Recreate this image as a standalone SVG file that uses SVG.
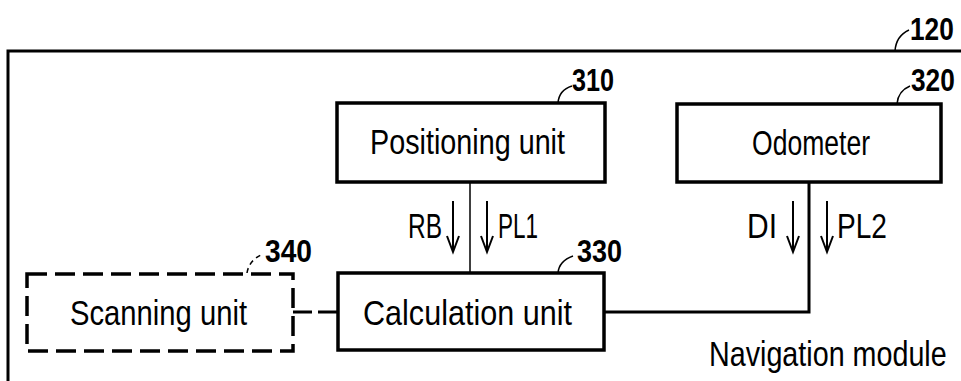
<svg xmlns="http://www.w3.org/2000/svg" width="961" height="381" viewBox="0 0 961 381">
<style>
.box{fill:none;stroke:#000;stroke-width:3.5}
.dbox{fill:none;stroke:#000;stroke-width:3.5;stroke-dasharray:20 8}
.t{font-family:"Liberation Sans Narrow","Liberation Sans",Arial,sans-serif;font-size:35px;fill:#000}
.ref{font-family:"Liberation Sans Narrow","Liberation Sans",Arial,sans-serif;font-size:32px;fill:#000;font-weight:bold}
.line{fill:none;stroke:#000;stroke-width:1.5}
.wire{fill:none;stroke:#000;stroke-width:3}
.arr{fill:none;stroke:#000;stroke-width:2}
.lead{fill:none;stroke:#000;stroke-width:1.5}
</style>
<rect width="961" height="381" fill="#fff"/>
<g id="frame">
<path class="wire" d="M8,381 V51 H961"/>
<text class="t" font-size="33" transform="translate(709,366) scale(0.82,1)">Navigation module</text>
<path class="lead" d="M895,51 Q896,36 909,30"/>
<text class="ref" transform="translate(910,40) scale(0.82,1)">120</text>
</g>
<g id="connectors">
<path class="line" d="M470,182 V273"/>
<path class="wire" d="M809,182 V312 H604"/>
<path class="wire" d="M293,312 H312 M318,312 H338"/>
<path class="arr" d="M453,201 V252 M447,236 L453,252 L459,236"/>
<path class="arr" d="M487,201 V252 M481,236 L487,252 L493,236"/>
<path class="arr" d="M793,201 V252 M787,236 L793,252 L799,236"/>
<path class="arr" d="M827,201 V252 M821,236 L827,252 L833,236"/>
<text class="t" x="408" y="238" textLength="34" lengthAdjust="spacingAndGlyphs">RB</text>
<text class="t" x="498" y="238" textLength="40" lengthAdjust="spacingAndGlyphs">PL1</text>
<text class="t" x="747" y="238" textLength="30" lengthAdjust="spacingAndGlyphs">DI</text>
<text class="t" x="837" y="238" textLength="50" lengthAdjust="spacingAndGlyphs">PL2</text>
</g>
<g id="positioning-unit">
<rect class="box" x="337" y="103" width="268" height="79"/>
<text class="t" x="370" y="154" textLength="195" lengthAdjust="spacingAndGlyphs">Positioning unit</text>
<path class="lead" d="M558,103 Q559,90 572,86"/>
<text class="ref" x="572" y="91" textLength="42" lengthAdjust="spacingAndGlyphs">310</text>
</g>
<g id="odometer">
<rect class="box" x="677" y="104" width="264" height="78"/>
<text class="t" x="752" y="155" textLength="118" lengthAdjust="spacingAndGlyphs">Odometer</text>
<path class="lead" d="M897,104 Q898,91 910,86"/>
<text class="ref" transform="translate(911,91) scale(0.82,1)">320</text>
</g>
<g id="calculation-unit">
<rect class="box" x="338" y="273" width="266" height="77"/>
<text class="t" x="363" y="325" textLength="209" lengthAdjust="spacingAndGlyphs">Calculation unit</text>
<path class="lead" d="M558,273 Q559,261 573,256"/>
<text class="ref" x="577" y="262" textLength="45" lengthAdjust="spacingAndGlyphs">330</text>
</g>
<g id="scanning-unit">
<rect class="dbox" x="27" y="274" width="266" height="77"/>
<text class="t" x="70" y="325" textLength="177" lengthAdjust="spacingAndGlyphs">Scanning unit</text>
<path class="lead" d="M247,273 Q249,260 263,254" stroke-dasharray="5 4"/>
<text class="ref" x="265" y="262" textLength="47" lengthAdjust="spacingAndGlyphs">340</text>
</g>
</svg>
